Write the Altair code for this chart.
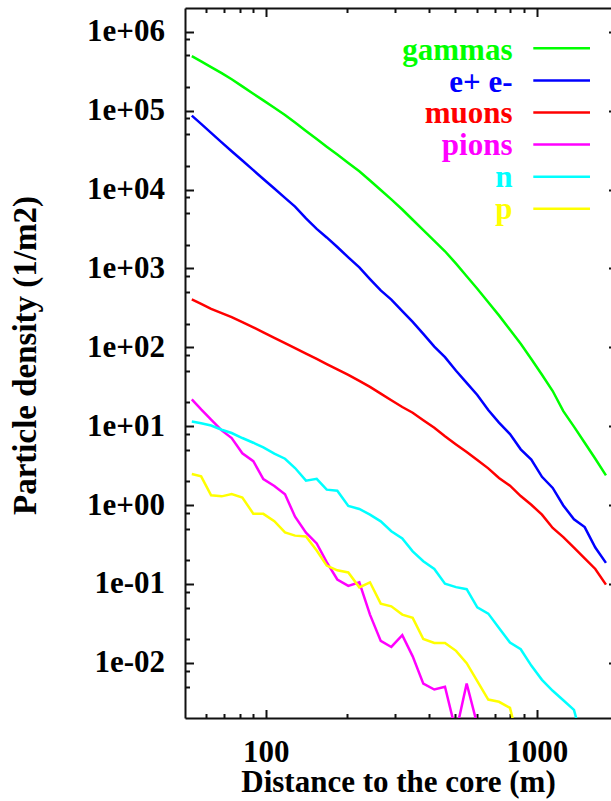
import altair as alt
import pandas as pd

# ---- data (log-log) ----
distance = [53.3, 57.7, 62.8, 68.7, 74.8, 81.9, 89.9, 97.9, 107.5, 117.7,
            128.2, 140.7, 154.1, 167.8, 183.6, 201.6, 221.4, 242.4, 265.6, 290.6,
            319.0, 348.5, 381.4, 418.8, 458.6, 503.8, 551.5, 603.6, 662.6, 725.8,
            797.0, 873.1, 955.2, 1046, 1146, 1254, 1373, 1504, 1646, 1802]

gammas = [4.91e5, 4.21e5, 3.56e5, 2.99e5, 2.50e5, 2.03e5, 1.64e5, 1.35e5, 1.09e5, 8.81e4,
          7.06e4, 5.52e4, 4.36e4, 3.49e4, 2.77e4, 2.17e4, 1.70e4, 1.30e4, 9.88e3, 7.49e3,
          5.58e3, 4.14e3, 3.05e3, 2.23e3, 1.65e3, 1.15e3, 795, 552, 373, 254,
          167, 111, 71.1, 44.8, 27.9, 15.5, 9.87, 6.17, 3.87, 2.38]

electrons = [8.66e4, 6.80e4, 5.23e4, 3.96e4, 3.06e4, 2.33e4, 1.76e4, 1.36e4, 1.03e4, 7.83e3,
             6.07e3, 4.30e3, 3.17e3, 2.47e3, 1.87e3, 1.38e3, 1.03e3, 733, 526, 403,
             287, 210, 148, 102, 75.1, 50.5, 35.4, 24.9, 16.0, 11.1,
             7.95, 5.09, 3.78, 2.28, 1.65, 0.988, 0.661, 0.526, 0.290, 0.185]

muons = [404, 355, 307, 271, 241, 208, 179, 155, 132, 113,
         97.7, 83.2, 71.3, 61.4, 52.6, 44.8, 37.5, 31.5, 25.9, 21.3,
         17.5, 14.8, 11.9, 9.56, 7.44, 5.87, 4.72, 3.74, 2.92, 2.21,
         1.76, 1.30, 1.01, 0.756, 0.513, 0.393, 0.289, 0.211, 0.155, 0.0981]

pions = [21.9, 16.3, 12.1, 8.84, 7.08, 4.54, 3.60, 2.14, 1.75, 1.37,
         0.713, 0.447, 0.327, 0.189, 0.114, 0.0945, 0.105, 0.0409, 0.0190, 0.0159,
         0.0225, 0.0121, 0.00544, 0.00459, 0.00497, 0.00133, 0.00547, 0.00164]

neutrons = [11.5, 10.9, 10.2, 9.02, 8.19, 7.08, 6.17, 5.38, 4.48, 3.87,
            2.95, 2.04, 2.15, 1.57, 1.52, 0.974, 0.893, 0.756, 0.622, 0.467,
            0.377, 0.259, 0.194, 0.155, 0.101, 0.0912, 0.0858, 0.0505, 0.0421, 0.0277,
            0.0181, 0.0149, 0.00924, 0.00609, 0.00443, 0.00336, 0.00253, 0.0008]

protons = [2.48, 2.31, 1.33, 1.29, 1.38, 1.25, 0.778, 0.774, 0.625, 0.451,
           0.410, 0.401, 0.265, 0.171, 0.149, 0.140, 0.0907, 0.105, 0.0564, 0.0521,
           0.0409, 0.0372, 0.0201, 0.0179, 0.0179, 0.0142, 0.00989, 0.00585, 0.00343, 0.00321,
           0.00269, 0.00077]

names = ["gammas", "e+ e-", "muons", "pions", "n", "p"]
colors = ["#00ff00", "#0000ff", "#ff0000", "#ff00ff", "#00ffff", "#ffff00"]
series = [gammas, electrons, muons, pions, neutrons, protons]

x_major = [100, 1000]
x_minor = [60, 70, 80, 90, 200, 300, 400, 500, 600, 700, 800, 900]
y_major = [1e-2, 1e-1, 1, 10, 100, 1e3, 1e4, 1e5, 1e6]
y_minor = [5e-3, 8e-3, 2e-2, 5e-2, 8e-2, 0.2, 0.5, 0.8, 2, 5, 8, 20, 50, 80,
           200, 500, 800, 2e3, 5e3, 8e3, 2e4, 5e4, 8e4, 2e5, 5e5, 8e5]

# ---- tables ----
rows = []
for s, (name, vals) in enumerate(zip(names, series)):
    for k, v in enumerate(vals):
        rows.append({"particle": name, "sidx": s, "k": k,
                     "distance": distance[k], "density": v})
df = pd.DataFrame(rows)
legend_df = pd.DataFrame({"particle": names, "row": list(range(len(names)))})

FONT = "Liberation Serif"
FS = 31
W, H = 426, 710
MAJ, MIN = 8.5, 4.5
TW = 2
TC = "#111111"

xs = alt.Scale(type="log", domain=[50.3, 1881], nice=False)
ys = alt.Scale(type="log", domain=[0.002, 2e6], nice=False)
cs = alt.Scale(domain=names, range=colors)

tickstyle = dict(grid=False, tickColor=TC, tickWidth=TW, domain=False,
                 labels=False, title=None)
domstyle = dict(grid=False, ticks=False, labels=False, title=None, domain=True,
                domainColor=TC, domainWidth=2)

# inward ticks: each axis is moved inside by its tick length (negative offset)
x_bottom = alt.Axis(orient="bottom", values=x_major, format="d",
                    offset=-MAJ, tickSize=MAJ, tickColor=TC, tickWidth=TW,
                    domain=False, grid=False,
                    labelFont=FONT, labelFontSize=FS, labelFontWeight="bold",
                    labelColor="black", labelBaseline="alphabetic",
                    labelPadding=43.4, labelFlush=False, labelOverlap=False,
                    title="Distance to the core (m)", titleFont=FONT,
                    titleFontSize=FS, titleFontWeight="bold", titleColor="black",
                    titleX=W / 2, titleY=73.7 + MAJ, titleBaseline="alphabetic",
                    titleAlign="center")

y_left = alt.Axis(orient="left", values=y_major,
                  labelExpr="'1e' + (round(log(datum.value)/LN10) < 0 ? '-' : '+') + '0' + abs(round(log(datum.value)/LN10))",
                  offset=-MAJ, tickSize=MAJ, tickColor=TC, tickWidth=TW,
                  domain=False, grid=False,
                  labelFont=FONT, labelFontSize=FS, labelFontWeight="bold",
                  labelColor="black", labelAlign="right", labelBaseline="middle",
                  labelPadding=20.5, labelFlush=False, labelOverlap=False,
                  title="Particle density (1/m2)", titleFont=FONT,
                  titleFontSize=33, titleFontWeight="bold", titleColor="black",
                  titleAngle=270, titleX=-150 - MAJ, titleY=347,
                  titleBaseline="alphabetic", titleAlign="center")

x_bottom_minor = alt.Axis(orient="bottom", values=x_minor, offset=-MIN, tickSize=MIN, **tickstyle)
y_left_minor = alt.Axis(orient="left", values=y_minor, offset=-MIN, tickSize=MIN, **tickstyle)
x_top = alt.Axis(orient="top", values=x_major, offset=-MAJ, tickSize=MAJ, **tickstyle)
y_right = alt.Axis(orient="right", values=y_major, offset=-2.5, tickSize=2.5, **tickstyle)
x_top_minor = alt.Axis(orient="top", values=x_minor, offset=-MIN, tickSize=MIN, **tickstyle)
x_bottom_dom = alt.Axis(orient="bottom", **domstyle)
y_left_dom = alt.Axis(orient="left", **domstyle)
x_top_dom = alt.Axis(orient="top", **domstyle)

lines = alt.Chart(df).mark_line(strokeWidth=2.5, clip=True).encode(
    x=alt.X("distance:Q", scale=xs, axis=x_bottom),
    y=alt.Y("density:Q", scale=ys, axis=y_left),
    color=alt.Color("particle:N", scale=cs, legend=None),
    detail="sidx:N",
    order="k:Q",
)

def ghost(xa, ya):
    return alt.Chart(df).mark_point(opacity=0, clip=True).encode(
        x=alt.X("distance:Q", scale=xs, axis=xa),
        y=alt.Y("density:Q", scale=ys, axis=ya),
    )

g1 = ghost(x_bottom_minor, y_left_minor)
g2 = ghost(x_top, y_right)
g3 = ghost(x_top_minor, y_left_dom)
g4 = ghost(x_bottom_dom, None)
g5 = ghost(x_top_dom, None)

leg_text = alt.Chart(legend_df).transform_calculate(
    ty="52 + 31.7 * datum.row"
).mark_text(align="right", baseline="alphabetic", font=FONT, fontSize=FS,
            fontWeight="bold").encode(
    x=alt.value(327.5),
    y=alt.Y("ty:Q", scale=None, axis=None),
    text="particle:N",
    color=alt.Color("particle:N", scale=cs, legend=None),
)

leg_line = alt.Chart(legend_df).transform_calculate(
    ly="40.3 + 32.1 * datum.row"
).mark_rule(strokeWidth=2.5).encode(
    x=alt.value(348.3),
    x2=alt.value(405),
    y=alt.Y("ly:Q", scale=None, axis=None),
    color=alt.Color("particle:N", scale=cs, legend=None),
)

chart = alt.layer(lines, g1, g2, g3, g4, g5, leg_text, leg_line).resolve_axis(
    x="independent", y="independent"
).properties(
    width=W, height=H,
    padding={"left": 185, "top": 8, "right": 0, "bottom": 83},
    autosize=alt.AutoSizeParams(type="none"),
    background="white",
).configure_view(stroke=None)

chart.save("out.html", embed_options={"renderer": "svg", "actions": False})
